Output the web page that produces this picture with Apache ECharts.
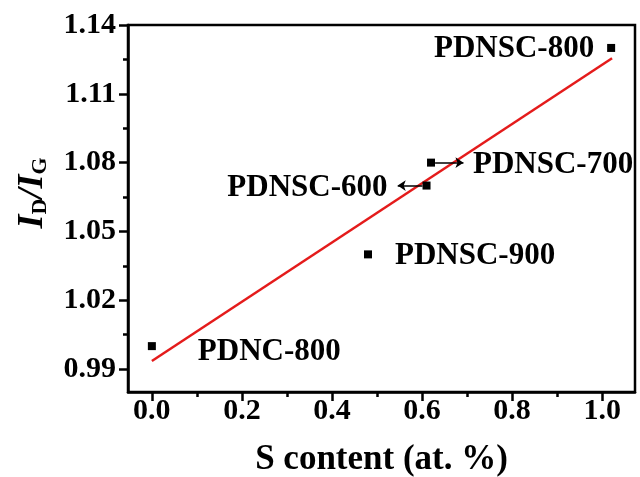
<!DOCTYPE html>
<html>
<head>
<meta charset="utf-8">
<script src="https://cdn.jsdelivr.net/npm/echarts@6/dist/echarts.min.js"></script>
<style>
  html, body { margin: 0; padding: 0; background: #fff; }
  #chart { width: 640px; height: 477px; }
</style>
</head>
<body>
<div id="chart"></div>
<script>
// Samples and their measured I_D/I_G ratios
const sampleNames = ['PDNC-800', 'PDNSC-900', 'PDNSC-600', 'PDNSC-700', 'PDNSC-800'];
const sContent = [0, 0.48, 0.61, 0.62, 1.02];
const idIgRatio = [1.00, 1.04, 1.07, 1.08, 1.13];

// Linear fit endpoints
const fitX = [0, 1.022];
const fitY = [0.9935, 1.1255];

// Axis ticks
const xTickValues = [0, 0.2, 0.4, 0.6, 0.8, 1.0];
const xMinorTickValues = [0.1, 0.3, 0.5, 0.7, 0.9];
const yTickValues = [0.99, 1.02, 1.05, 1.08, 1.11, 1.14];
const yMinorTickValues = [1.005, 1.035, 1.065, 1.095, 1.125];

const X_MIN = -0.053, X_MAX = 1.073;
const Y_MIN = 0.98, Y_MAX = 1.14;

const FONT = '"Liberation Serif", "Times New Roman", serif';
const AXIS_W = 2.5;

// Per-sample label placement
const labelPlacement = {
  'PDNC-800':  { position: 'right', distance: 42, offset: [0, 6] },
  'PDNSC-900': { position: 'right', distance: 23, offset: [0, 2] },
  'PDNSC-600': { position: 'left',  distance: 35, offset: [0, 2] },
  'PDNSC-700': { position: 'right', distance: 38, offset: [0, 2] },
  'PDNSC-800': { position: 'left',  distance: 13, offset: [0, 1] }
};

const pointLabelStyle = { fontFamily: FONT, fontWeight: 'bold', fontSize: 31, color: '#000' };

const scatterData = sampleNames.map((name, i) => ({
  name: name,
  value: [sContent[i], idIgRatio[i]],
  label: Object.assign({ show: true, formatter: '{b}' }, pointLabelStyle, labelPlacement[name])
}));

// Pointer arrows from PDNSC-700 (right) and PDNSC-600 (left)
const i700 = sampleNames.indexOf('PDNSC-700');
const i600 = sampleNames.indexOf('PDNSC-600');
const arrowLines = [
  [{ coord: [sContent[i700] + 0.009, idIgRatio[i700]] }, { coord: [sContent[i700] + 0.072, idIgRatio[i700]] }],
  [{ coord: [sContent[i600] - 0.009, idIgRatio[i600]] }, { coord: [sContent[i600] - 0.064, idIgRatio[i600]] }]
];

const tickLabel = { fontFamily: FONT, fontWeight: 'bold', fontSize: 30, color: '#000' };

const chart = echarts.init(document.getElementById('chart'), null, { renderer: 'canvas' });
chart.setOption({
  animation: false,
  backgroundColor: '#fff',
  grid: {
    left: 128, right: 5, top: 25, bottom: 85,
    containLabel: false,
    outerBoundsMode: 'none',
    show: true, borderColor: '#000', borderWidth: AXIS_W, backgroundColor: 'transparent'
  },
  xAxis: [
    {
      type: 'value', min: X_MIN, max: X_MAX, position: 'bottom',
      name: 'S content (at. %)', nameLocation: 'middle', nameGap: 50,
      nameTextStyle: { fontFamily: FONT, fontWeight: 'bold', fontSize: 35, color: '#000' },
      axisLine: { show: true, onZero: false, lineStyle: { color: '#000', width: AXIS_W } },
      axisTick: { show: true, inside: false, length: 9, customValues: xTickValues, lineStyle: { color: '#000', width: AXIS_W } },
      axisLabel: Object.assign({ customValues: xTickValues, margin: 4, formatter: v => v.toFixed(1) }, tickLabel),
      splitLine: { show: false }
    },
    {
      type: 'value', min: X_MIN, max: X_MAX, position: 'bottom',
      axisLine: { show: false, onZero: false },
      axisTick: { show: true, inside: false, length: 5, customValues: xMinorTickValues, lineStyle: { color: '#000', width: AXIS_W } },
      axisLabel: { show: false },
      splitLine: { show: false }
    }
  ],
  yAxis: [
    {
      type: 'value', min: Y_MIN, max: Y_MAX, position: 'left',
      axisLine: { show: true, onZero: false, lineStyle: { color: '#000', width: AXIS_W } },
      axisTick: { show: true, inside: false, length: 9, customValues: yTickValues, lineStyle: { color: '#000', width: AXIS_W } },
      axisLabel: Object.assign({ customValues: yTickValues, margin: 12, formatter: v => v.toFixed(2) }, tickLabel),
      splitLine: { show: false }
    },
    {
      type: 'value', min: Y_MIN, max: Y_MAX, position: 'left',
      axisLine: { show: false, onZero: false },
      axisTick: { show: true, inside: false, length: 5, customValues: yMinorTickValues, lineStyle: { color: '#000', width: AXIS_W } },
      axisLabel: { show: false },
      splitLine: { show: false }
    }
  ],
  graphic: [
    {
      type: 'text',
      x: 33, y: 193,
      rotation: Math.PI / 2,
      style: {
        text: '{i|I}{s|D}{i|/I}{s|G}',
        align: 'center',
        verticalAlign: 'middle',
        rich: {
          i: { fontFamily: FONT, fontStyle: 'italic', fontWeight: 'bold', fontSize: 36, lineHeight: 36, verticalAlign: 'top', fill: '#000' },
          s: { fontFamily: FONT, fontWeight: 'bold', fontSize: 22, lineHeight: 22, padding: [25, 0, 0, 0], verticalAlign: 'bottom', fill: '#000' }
        }
      }
    }
  ],
  series: [
    {
      type: 'line',
      data: fitX.map((x, i) => [x, fitY[i]]),
      showSymbol: false,
      symbol: 'none',
      lineStyle: { color: '#e41b1b', width: 2.5 },
      z: 3,
      silent: true
    },
    {
      type: 'scatter',
      data: scatterData,
      symbol: 'rect',
      symbolSize: 8,
      itemStyle: { color: '#000', opacity: 1 },
      label: pointLabelStyle,
      z: 4,
      markLine: {
        silent: true,
        symbol: ['none', 'arrow'],
        symbolSize: 8,
        label: { show: false },
        lineStyle: { color: '#000', width: 1.5, type: 'solid', opacity: 1 },
        data: arrowLines
      }
    }
  ]
});
</script>
</body>
</html>
